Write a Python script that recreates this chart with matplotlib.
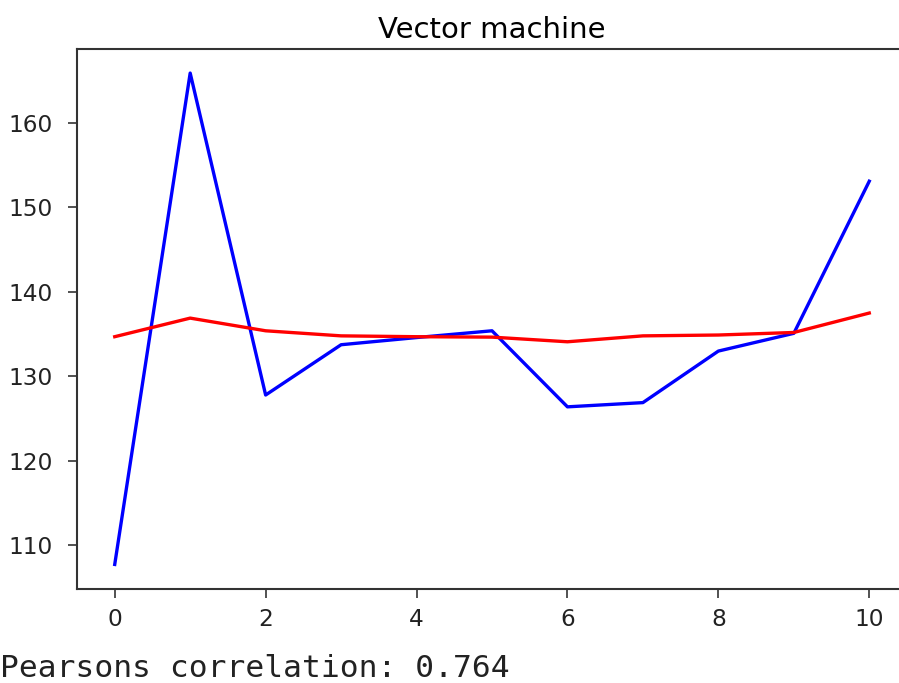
import matplotlib
matplotlib.use("Agg")
import matplotlib.pyplot as plt

x_vals = list(range(11))
actual = [107.75, 165.9, 127.8, 133.75, 134.6, 135.4, 126.4, 126.9, 133.0, 135.1, 153.1]
predicted = [134.7, 136.9, 135.4, 134.8, 134.7, 134.65, 134.1, 134.8, 134.9, 135.2, 137.5]

W, H, DPI = 899, 683, 150
fig = plt.figure(figsize=(W / DPI, H / DPI), dpi=DPI)

# axes is cropped on the right, as in the notebook screenshot
left, right = 77 / W, 907 / W
bottom, top = 1 - 589 / H, 1 - 48.5 / H
ax = fig.add_axes([left, bottom, right - left, top - bottom])

ax.plot(x_vals, actual, color='blue', linewidth=1.6)
ax.plot(x_vals, predicted, color='red', linewidth=1.6)
ax.set_title("Vector machine", fontsize=14, pad=5)

ax.tick_params(axis='both', labelsize=11.2, length=4.5, color='#333333', labelcolor='#222222')
ax.tick_params(axis='y', pad=7)
ax.tick_params(axis='x', pad=4.5)
for s in ax.spines.values():
    s.set_color('#333333')
    s.set_linewidth(1.0)

fig.text(0, 6 / H, "Pearsons correlation: 0.764",
         family='DejaVu Sans Mono', fontsize=15, va='baseline', ha='left',
         color='#222222')

fig.savefig("out.png", dpi=DPI)
